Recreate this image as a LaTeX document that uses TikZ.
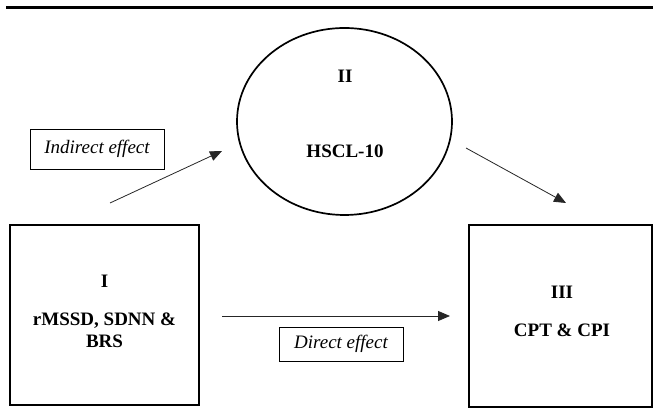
\documentclass[tikz,border=0pt]{standalone}
\usepackage{fontspec}
\setmainfont{Liberation Serif}
\usetikzlibrary{arrows.meta,shapes.geometric}

\begin{document}
\begin{tikzpicture}[x=1pt,y=-1pt,font=\fontsize{19}{22.5}\selectfont,
      blk/.style={draw,line width=1.7pt,inner sep=0pt},
      txt/.style={align=center,font=\fontsize{19}{22.5}\selectfont\bfseries},
      eff/.style={draw,line width=0.8pt,inner sep=0pt,font=\fontsize{19}{22.5}\selectfont\itshape},
      arr/.style={-{Triangle[length=12pt,width=10pt]},line width=0.8pt,black!85}]
    \useasboundingbox (0,0) rectangle (653,411);
    \draw[line width=3pt] (6,7.5) -- (653,7.5);
    % the three blocks
    \node[blk,minimum width=189pt,minimum height=180pt] (hrv) at (104.5,315) {};
    \node[blk,ellipse,minimum width=215pt,minimum height=187pt] (hscl) at (344.5,121.5) {};
    \node[blk,minimum width=183pt,minimum height=182pt] (cog) at (560.5,316) {};
    \node[txt] (hrvtxt) at (104.5,311.4) {I\\[15.5pt]rMSSD, SDNN \&\\BRS};
    \node[txt] (hscltxt) at (345,113.9) {II\\[52.5pt]HSCL-10};
    \node[txt] (cogtxt) at (562,311.4) {III\\[15.5pt]CPT \& CPI};
    % effect labels
    \node[eff,minimum width=134pt,minimum height=40pt] (indir) at (97,149) {Indirect effect};
    \node[eff,minimum width=124pt,minimum height=34pt] (dir) at (341,344) {Direct effect};
    % arrow ends
    \coordinate (a1) at (110,203);
    \coordinate (a2) at (222,151);
    \coordinate (b1) at (466,148);
    \coordinate (b2) at (566,203);
    \coordinate (c1) at (222,316);
    \coordinate (c2) at (450,316);
    \foreach \a/\b in {a1/a2,b1/b2,c1/c2}{
      \draw[arr] (\a)--(\b);}
\end{tikzpicture}
\end{document}
